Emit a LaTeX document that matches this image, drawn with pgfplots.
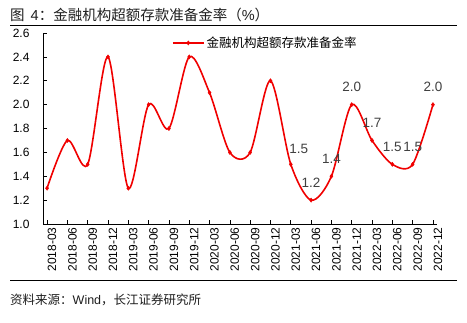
\documentclass[border=0pt]{standalone}
\usepackage{fontspec}
\setmainfont{Liberation Sans}
\newfontfamily\cjk{Noto Sans CJK SC}
\usepackage{pgfplots}
\pgfplotsset{compat=1.18}
\definecolor{lred}{RGB}{240,0,0}
\definecolor{lblgray}{RGB}{64,64,64}
\definecolor{titlec}{RGB}{30,30,30}
\begin{document}
\begin{tikzpicture}[x=1bp,y=1bp]
\path[use as bounding box] (0,0) rectangle (467,-322);
\node[anchor=base west, inner sep=0, text=titlec] at (10,-20.5) {\fontsize{14.5bp}{16bp}\selectfont{\cjk 图}\hspace{6bp}4{\cjk ：金融机构超额存款准备金率（}\%{\cjk ）}};
\draw[line width=0.8bp] (10,-25) -- (457,-25);
\draw[line width=0.8bp] (10,-280) -- (457,-280);
\node[anchor=base west, inner sep=0, text=titlec] at (10,-304) {\fontsize{12.5bp}{14bp}\selectfont{\cjk 资料来源：}Wind{\cjk ，长江证券研究所}};
\begin{axis}[
  at={(43bp,-224bp)}, anchor=south west,
  scale only axis, width=394bp, height=191bp,
  xmin=-0.2, xmax=19.2, ymin=1, ymax=2.6,
  axis x line*=bottom, axis y line*=left,
  axis line style={-, black, line width=0.6bp},
  tick style={black, line width=0.6bp},
  tick align=inside, major tick length=4bp,
  ytick={1,1.2,1.4,1.6,1.8,2,2.2,2.4,2.6},
  yticklabel style={xshift=-10bp, /pgf/number format/.cd, fixed, fixed zerofill, precision=1},
  xtick={0,...,19},
  xticklabels={2018-03,2018-06,2018-09,2018-12,2019-03,2019-06,2019-09,2019-12,2020-03,2020-06,2020-09,2020-12,2021-03,2021-06,2021-09,2021-12,2022-03,2022-06,2022-09,2022-12},
  x tick label style={rotate=90, anchor=east, yshift=-5bp},
  /pgf/number format/assume math mode=true,
  ticklabel style={font=\fontsize{12bp}{14bp}\selectfont},
  clip=false,
  legend style={draw=none, fill=none, at={(0.327,0.948)}, anchor=west, inner sep=0pt,
    font=\fontsize{12.5bp}{14bp}\selectfont\cjk},
  legend image code/.code={\draw[mark repeat=2,mark phase=2,#1] plot coordinates {(0bp,0bp) (15.5bp,0bp) (31bp,0bp)};},
]
\addplot[lred, line width=1.6bp, smooth, tension=0.5, mark=diamond*, mark size=2.1bp, mark options={fill=lred, draw=lred, line width=0.4bp}] table {
x y
0 1.3
1 1.7
2 1.5
3 2.4
4 1.3
5 2.0
6 1.8
7 2.4
8 2.1
9 1.6
10 1.6
11 2.2
12 1.5
13 1.2
14 1.4
15 2.0
16 1.7
17 1.5
18 1.5
19 2.0
};
\addlegendentry{金融机构超额存款准备金率}
\addplot[draw=none, mark=none, forget plot, nodes near coords, point meta=y,
  nodes near coords style={anchor=south, inner sep=0pt, xshift=8bp, yshift=10bp, text=lblgray, font=\fontsize{13.5bp}{15bp}\selectfont, /pgf/number format/.cd, fixed, fixed zerofill, precision=1, assume math mode=true}] table {
x y
12 1.5
};
\addplot[draw=none, mark=none, forget plot, nodes near coords, point meta=y,
  nodes near coords style={anchor=south, inner sep=0pt, yshift=12.5bp, text=lblgray, font=\fontsize{13.5bp}{15bp}\selectfont, /pgf/number format/.cd, fixed, fixed zerofill, precision=1, assume math mode=true}] table {
x y
13 1.2
14 1.4
15 2.0
16 1.7
17 1.5
18 1.5
19 2.0
};
\end{axis}
\end{tikzpicture}
\end{document}
